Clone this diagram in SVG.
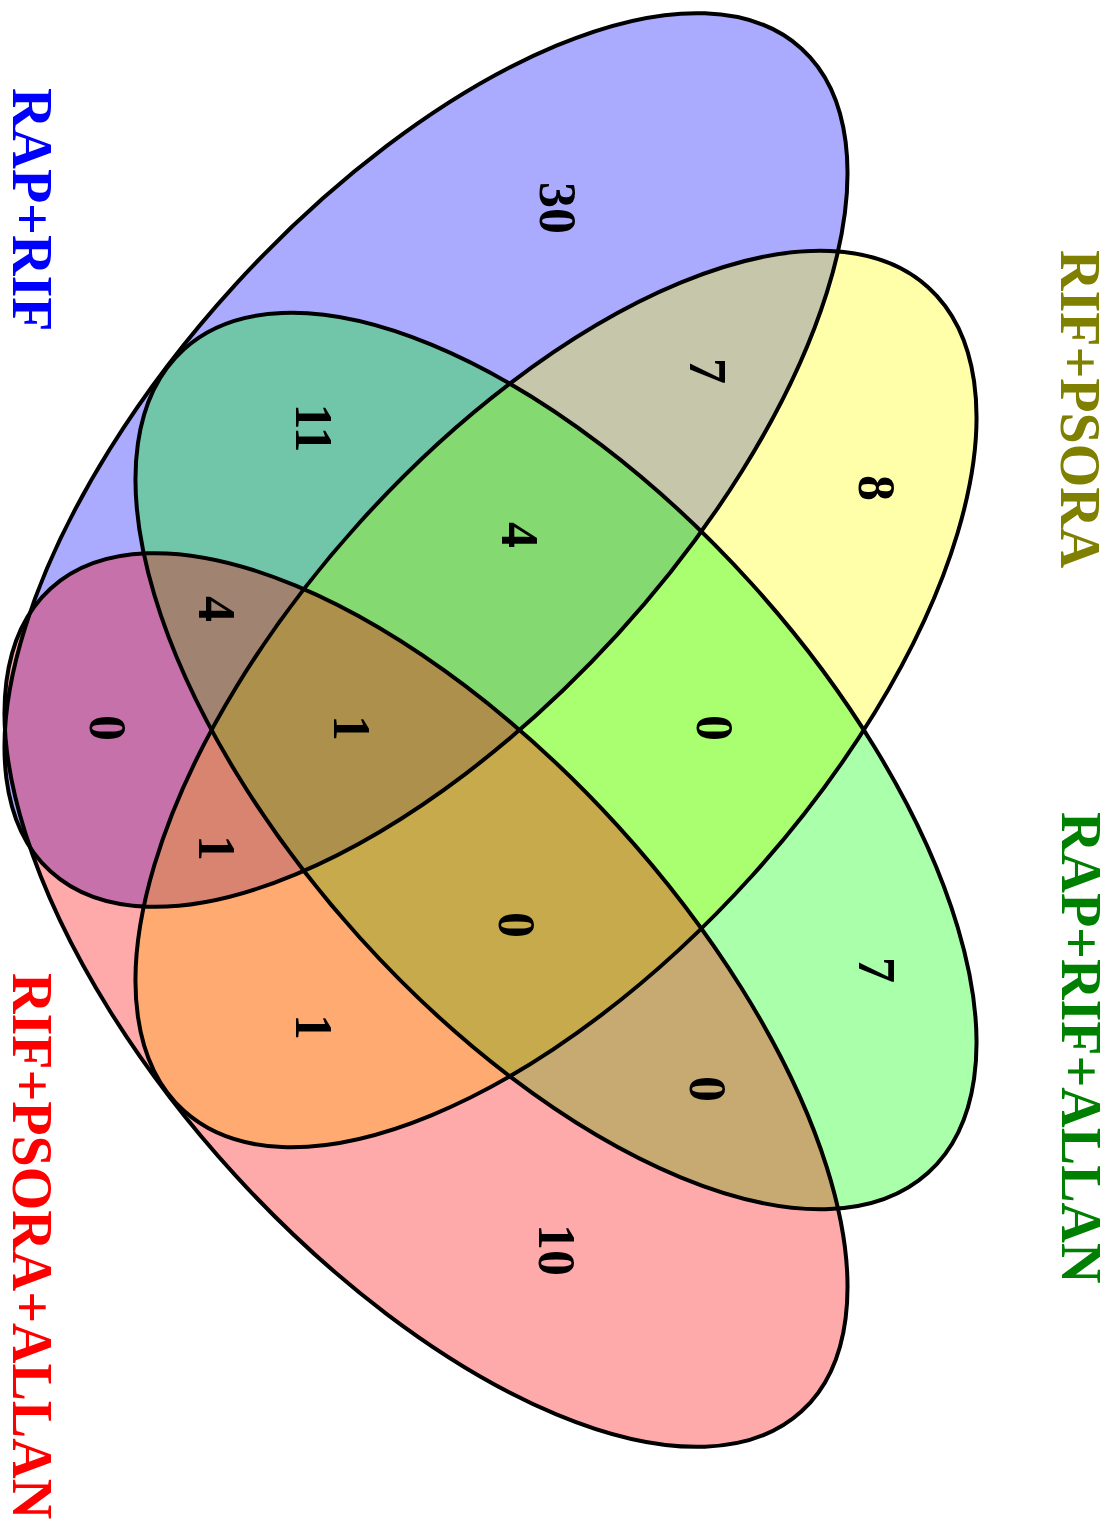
<svg xmlns="http://www.w3.org/2000/svg" xmlns:xlink="http://www.w3.org/1999/xlink" width="1116" height="1530" viewBox="0 0 1116 1530">
<style>
.area{fill-opacity:0.3333;stroke:none}
.outline{fill:none;stroke:#000;stroke-width:4}
.num{font-family:"Liberation Serif","Times New Roman",serif;font-size:52px;font-weight:bold;fill:#000;text-anchor:middle}
.lab{font-family:"Liberation Serif","Times New Roman",serif;font-size:56px;font-weight:bold}
</style>
<defs>
<ellipse id="e-blue" cx="426" cy="460" rx="557" ry="259" transform="rotate(-47.6 426 460)"/>
<ellipse id="e-yellow" cx="556" cy="699" rx="555" ry="264" transform="rotate(-47.9 556 699)"/>
<ellipse id="e-green" cx="556" cy="761" rx="555" ry="264" transform="rotate(47.9 556 761)"/>
<ellipse id="e-red" cx="426" cy="1000" rx="557" ry="259" transform="rotate(47.6 426 1000)"/>
</defs>
<rect width="1116" height="1530" fill="#fff"/>
<g id="set-rap-rif">
<use xlink:href="#e-blue" class="area" fill="#0000ff"/>
<text class="lab" fill="#0000ff" transform="translate(13,88) rotate(90)">RAP+RIF</text>
</g>
<g id="set-rif-psora">
<use xlink:href="#e-yellow" class="area" fill="#ffff00"/>
<text class="lab" fill="#808000" transform="translate(1061,250) rotate(90)">RIF+PSORA</text>
</g>
<g id="set-rap-rif-allan">
<use xlink:href="#e-green" class="area" fill="#00ff00"/>
<text class="lab" fill="#008000" transform="translate(1062,812) rotate(90)">RAP+RIF+ALLAN</text>
</g>
<g id="set-rif-psora-allan">
<use xlink:href="#e-red" class="area" fill="#ff0000"/>
<text class="lab" fill="#ff0000" transform="translate(13,973) rotate(90)">RIF+PSORA+ALLAN</text>
</g>
<g id="outlines">
<use xlink:href="#e-blue" class="outline"/>
<use xlink:href="#e-yellow" class="outline"/>
<use xlink:href="#e-green" class="outline"/>
<use xlink:href="#e-red" class="outline"/>
</g>
<g id="counts">
<text class="num" transform="translate(558,208) rotate(90)" y="18">30</text>
<text class="num" transform="translate(708,371) rotate(90)" y="18">7</text>
<text class="num" transform="translate(877,488) rotate(90)" y="18">8</text>
<text class="num" transform="translate(314,428) rotate(90)" y="18">11</text>
<text class="num" transform="translate(520,535) rotate(90)" y="18">4</text>
<text class="num" transform="translate(217,609) rotate(90)" y="18">4</text>
<text class="num" transform="translate(108,728) rotate(90)" y="18">0</text>
<text class="num" transform="translate(352,728) rotate(90)" y="18">1</text>
<text class="num" transform="translate(715,728) rotate(90)" y="18">0</text>
<text class="num" transform="translate(217,848) rotate(90)" y="18">1</text>
<text class="num" transform="translate(517,925) rotate(90)" y="18">0</text>
<text class="num" transform="translate(314,1027) rotate(90)" y="18">1</text>
<text class="num" transform="translate(877,970) rotate(90)" y="18">7</text>
<text class="num" transform="translate(708,1089) rotate(90)" y="18">0</text>
<text class="num" transform="translate(557,1250) rotate(90)" y="18">10</text>
</g>
</svg>
